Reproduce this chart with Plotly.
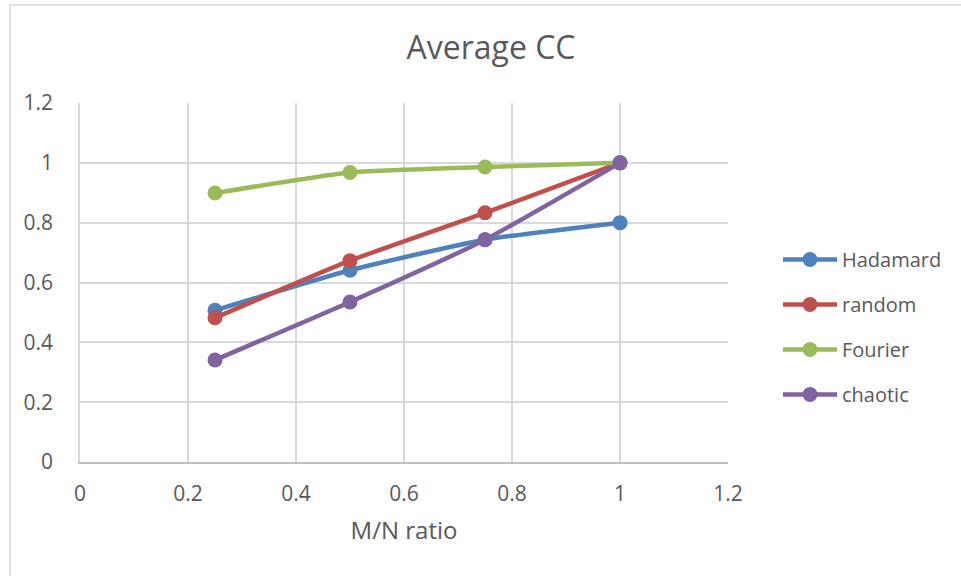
import plotly.graph_objects as go

# M/N ratios and average correlation coefficient per sensing matrix
ratios = [0.25, 0.5, 0.75, 1.0]
hadamard = [0.507, 0.641, 0.743, 0.800]
random_vals = [0.482, 0.673, 0.833, 1.000]
fourier = [0.899, 0.968, 0.986, 1.000]
chaotic = [0.341, 0.535, 0.743, 1.000]

series = [
    ("Hadamard", hadamard, "#4F81BD"),
    ("random", random_vals, "#C0504D"),
    ("Fourier", fourier, "#9BBB59"),
    ("chaotic", chaotic, "#8064A2"),
]

x_ticks = [0, 0.2, 0.4, 0.6, 0.8, 1, 1.2]
y_ticks = [0, 0.2, 0.4, 0.6, 0.8, 1, 1.2]

FONT = "Open Sans"
TEXT = "#595959"
GRID = "#D9D9D9"

fig = go.Figure()
for i, (name, vals, color) in enumerate(series):
    fig.add_trace(go.Scatter(
        x=ratios, y=vals, name=name, mode="lines+markers",
        line=dict(color=color, width=4.5, shape="spline", smoothing=0.5),
        marker=dict(color=color, size=15),
        legendgroup=f"g{i}",
    ))

W, H = 961, 576
L, R, T, B = 80, 233, 103, 114
pw, ph = W - L - R, H - T - B

def px_x(px):
    return (px - L) / pw

def px_y(py):
    return (H - B - py) / ph

fig.update_layout(
    width=W, height=H,
    margin=dict(l=L, r=R, t=T, b=B),
    paper_bgcolor="white", plot_bgcolor="white",
    font=dict(family=FONT, color=TEXT, size=20),
    title=dict(text="Average CC", x=491 / W, xanchor="center",
               y=1 - 48 / H, yanchor="middle",
               font=dict(size=32, color=TEXT, family=FONT)),
    xaxis=dict(range=[0, 1.2], tickvals=x_ticks, ticktext=[f"{v:g}" for v in x_ticks],
               showgrid=True, gridcolor=GRID, gridwidth=1.5,
               showline=True, linecolor="#BFBFBF", linewidth=1.5,
               zeroline=False, ticks="", ticklabelstandoff=12,
               title=dict(text="M/N ratio", standoff=16, font=dict(size=24)),
               tickfont=dict(size=21)),
    yaxis=dict(range=[0, 1.2], tickvals=y_ticks, ticktext=[f"{v:g}" for v in y_ticks],
               showgrid=True, gridcolor=GRID, gridwidth=1.5,
               showline=True, linecolor=GRID, linewidth=1.5,
               zeroline=False, ticks="", ticklabelstandoff=21,
               tickfont=dict(size=21)),
    legend=dict(x=px_x(778), xanchor="left", y=px_y(327), yanchor="middle",
                font=dict(size=20, color=TEXT), tracegroupgap=16,
                traceorder="grouped", itemwidth=54, bgcolor="rgba(0,0,0,0)"),
    showlegend=True,
    shapes=[dict(type="rect", xref="paper", yref="paper",
                 x0=px_x(10), x1=px_x(1000), y0=px_y(620), y1=px_y(5),
                 line=dict(color="#D9D9D9", width=1.5), layer="below")],
)

fig.write_html("out.html")
